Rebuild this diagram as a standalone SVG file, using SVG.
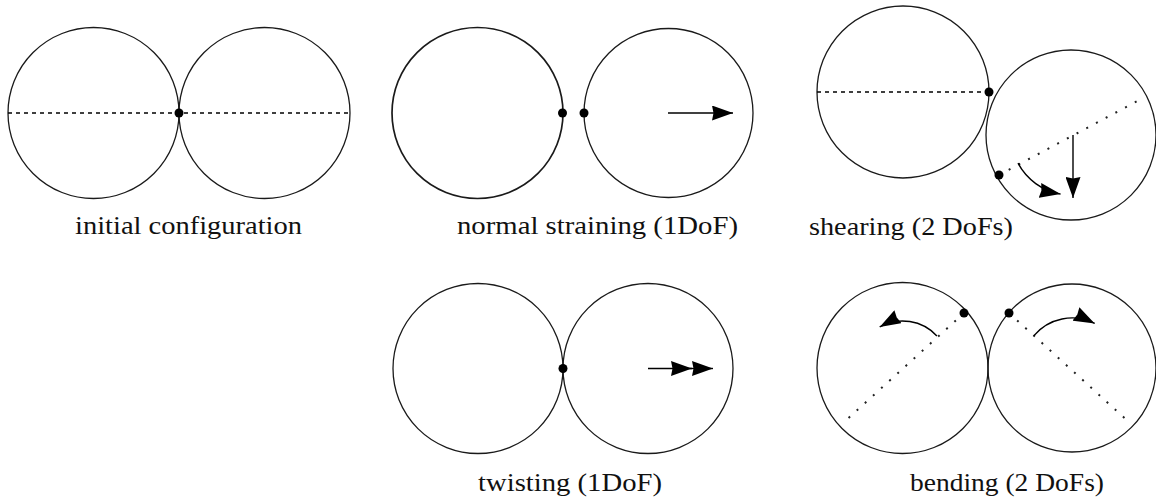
<svg xmlns="http://www.w3.org/2000/svg" width="1156" height="502" viewBox="0 0 1156 502">
<style>
.c{fill:none;stroke:#1a1a1a;stroke-width:1.3}
.dash{fill:none;stroke:#000;stroke-width:1.4;stroke-dasharray:4 4}
.dot{fill:none;stroke:#222;stroke-width:2;stroke-dasharray:2 9}
.pt{fill:#000}
.arr{fill:none;stroke:#000;stroke-width:1.4;marker-end:url(#ah)}
.lbl{font-family:"Liberation Serif","DejaVu Serif",serif;font-size:25px;fill:#111}
</style>
<defs>
<marker id="ah" viewBox="0 0 21 15" refX="21" refY="7.5" markerWidth="21" markerHeight="15" markerUnits="userSpaceOnUse" orient="auto">
<path d="M0,0 L21,7.5 L0,15 L1.5,7.5 Z" fill="#000"/>
</marker>
</defs>
<rect width="1156" height="502" fill="#fff"/>

<g id="initial">
<circle class="c" cx="93.5" cy="113" r="85.5"/>
<circle class="c" cx="264.5" cy="113" r="85.5"/>
<line class="dash" x1="8" y1="113" x2="350" y2="113"/>
<circle class="pt" cx="179" cy="113" r="4.5"/>
<text class="lbl" x="75" y="234" textLength="227" lengthAdjust="spacingAndGlyphs">initial configuration</text>
</g>

<g id="normal">
<circle class="c" cx="477.5" cy="113" r="85.5" style="stroke-width:1.7"/>
<circle class="c" cx="668.5" cy="113" r="84.5"/>
<circle class="pt" cx="562.5" cy="113" r="4.5"/>
<circle class="pt" cx="584" cy="113" r="4.5"/>
<text class="lbl" x="457" y="234" textLength="281" lengthAdjust="spacingAndGlyphs">normal straining (1DoF)</text>
</g>

<g id="shearing">
<circle class="c" cx="903" cy="92" r="86"/>
<circle class="c" cx="1071" cy="135" r="85"/>
<line class="dash" x1="817" y1="92" x2="989" y2="92"/>
<line class="dot" x1="999" y1="175" x2="1143" y2="98"/>
<circle class="pt" cx="989" cy="92" r="4.5"/>
<circle class="pt" cx="999" cy="175" r="4.5"/>
<text class="lbl" x="809" y="235" textLength="204" lengthAdjust="spacingAndGlyphs">shearing (2 DoFs)</text>
</g>

<g id="twisting">
<circle class="c" cx="478" cy="368.5" r="85"/>
<circle class="c" cx="648" cy="368.5" r="85"/>
<circle class="pt" cx="563" cy="368.5" r="4.5"/>
<text class="lbl" x="478" y="491" textLength="184" lengthAdjust="spacingAndGlyphs">twisting (1DoF)</text>
</g>

<g id="bending">
<circle class="c" cx="902.5" cy="368" r="85.5"/>
<circle class="c" cx="1072" cy="368" r="84"/>
<line class="dot" x1="964" y1="313" x2="843" y2="423"/>
<line class="dot" x1="1009" y1="313" x2="1130" y2="423"/>
<circle class="pt" cx="964" cy="313" r="4.5"/>
<circle class="pt" cx="1009" cy="313" r="4.5"/>
<text class="lbl" x="910" y="491" textLength="194" lengthAdjust="spacingAndGlyphs">bending (2 DoFs)</text>
</g>

<g id="connectors">
<line class="arr" x1="668" y1="113" x2="733" y2="113"/>
<line class="arr" x1="1073" y1="135" x2="1073" y2="198"/>
<path class="arr" d="M1018,163.2 A60,60 0 0 0 1060.6,194.1"/>
<line class="arr" x1="648" y1="368.5" x2="692" y2="368.5"/>
<line class="arr" x1="690" y1="368.5" x2="713" y2="368.5"/>
<path class="arr" d="M936.9,335.9 A47,47 0 0 0 879.7,326.9"/>
<path class="arr" d="M1033.7,335.9 A50,50 0 0 1 1094.7,323.4"/>
</g>
</svg>
